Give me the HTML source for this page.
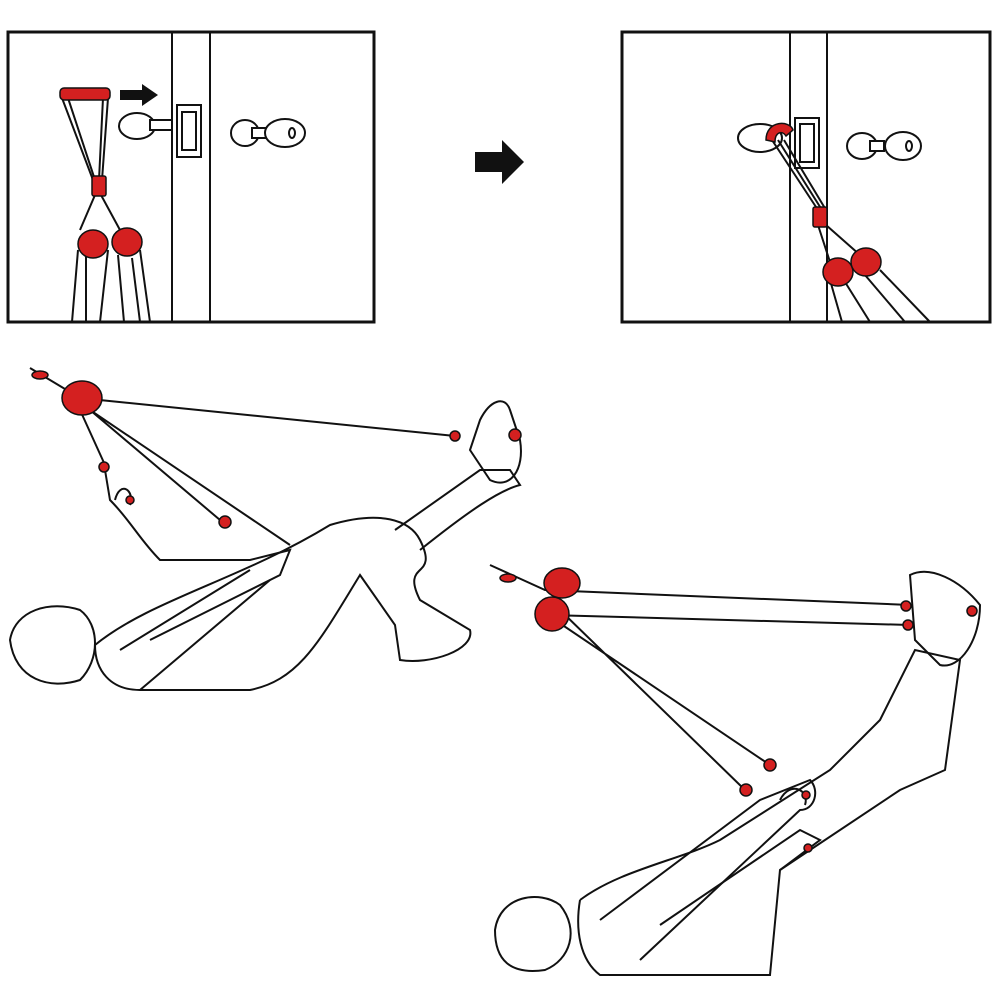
<!DOCTYPE html>
<html><head><meta charset="utf-8"><style>html,body{margin:0;padding:0;background:#fff}svg{display:block}</style></head>
<body>
<svg width="1000" height="1000" viewBox="0 0 1000 1000" xmlns="http://www.w3.org/2000/svg">
<g fill="none" stroke="#111" stroke-width="2">
<!-- left panel -->
<rect x="8" y="32" width="366" height="290" stroke-width="3"/>
<line x1="172" y1="32" x2="172" y2="322"/><line x1="210" y1="32" x2="210" y2="322"/>
<rect x="177" y="105" width="24" height="52"/><rect x="182" y="112" width="14" height="38"/>
<ellipse cx="137" cy="126" rx="18" ry="13" fill="#fff"/><rect x="150" y="120" width="22" height="10" fill="#fff"/>
<ellipse cx="245" cy="133" rx="14" ry="13" fill="#fff"/><rect x="252" y="128" width="16" height="10" fill="#fff"/>
<ellipse cx="285" cy="133" rx="20" ry="14" fill="#fff"/><ellipse cx="292" cy="133" rx="3" ry="5"/>
<path d="M62 98 L93 180 M108 98 L102 180 M68 98 L95 180 M103 98 L99 180"/>
<path d="M95 195 L80 230 M101 195 L120 230 M78 250 L72 322 M108 250 L100 322 M86 255 L86 322 M118 255 L124 322 M140 250 L150 322 M132 258 L140 322"/>
<!-- right panel -->
<rect x="622" y="32" width="368" height="290" stroke-width="3"/>
<line x1="790" y1="32" x2="790" y2="322"/><line x1="827" y1="32" x2="827" y2="322"/>
<rect x="795" y="118" width="24" height="50"/><rect x="800" y="124" width="14" height="38"/>
<ellipse cx="760" cy="138" rx="22" ry="14" fill="#fff"/>
<ellipse cx="862" cy="146" rx="15" ry="13" fill="#fff"/><rect x="870" y="141" width="14" height="10" fill="#fff"/>
<ellipse cx="903" cy="146" rx="18" ry="14" fill="#fff"/><ellipse cx="909" cy="146" rx="3" ry="5"/>
<path d="M772 140 L818 210 M778 140 L822 210 M784 140 L826 210"/>
<path d="M818 225 L830 262 M826 225 L860 255 M830 280 L842 322 M845 282 L870 322 M865 275 L905 322 M880 270 L930 322"/>
<!-- bottom left figure cords -->
<path d="M30 368 L80 398 L455 436 M90 410 L220 520 M90 410 L290 545 M80 410 L105 465"/>
<!-- bottom left figure body -->
<path d="M10 640 C15 610 50 600 80 610 C100 625 100 660 80 680 C50 690 15 680 10 640 Z"/>
<path d="M95 645 C150 600 240 580 330 525 C380 510 410 520 420 540 C440 580 400 560 420 600 L470 630 C475 650 430 665 400 660 L395 625 L360 575 C320 640 300 680 250 690 L140 690 C110 690 95 670 95 645"/>
<path d="M395 530 L480 470 L510 470 L520 485 C500 490 470 510 420 550"/>
<path d="M480 420 C490 400 505 395 510 410 L520 440 C525 470 510 490 490 480 L470 450 Z"/>
<path d="M105 470 L110 500 C130 520 140 540 160 560 L250 560 L290 550 L280 575 L230 600 L150 640"/>
<path d="M115 500 C120 480 135 490 130 505"/>
<path d="M120 650 L250 570 M140 690 L270 580"/>
<!-- bottom right cords -->
<path d="M490 565 L545 590 L910 605 M548 615 L910 625 M555 620 L770 765 M560 610 L745 790"/>
<!-- bottom right figure -->
<path d="M495 930 C500 895 540 890 560 905 C580 930 570 960 545 970 C510 975 495 960 495 930 Z"/>
<path d="M580 900 C620 870 680 860 720 840 L830 770 L880 720 L915 650 L960 660 L945 770 L900 790 L780 870 L770 975 L600 975 C580 960 575 930 580 900"/>
<path d="M910 575 C930 565 960 580 980 605 C980 640 960 670 940 665 L915 640 Z"/>
<path d="M600 920 L760 800 L810 780 C820 790 815 810 800 810 L640 960"/>
<path d="M660 925 L800 830 L820 840 L780 870"/>
<path d="M780 800 C790 780 810 790 805 805"/>
</g>
<!-- red parts -->
<g fill="#d42020" stroke="#111" stroke-width="1.5">
<rect x="60" y="88" width="50" height="12" rx="4"/>
<rect x="92" y="176" width="14" height="20" rx="2"/>
<ellipse cx="93" cy="244" rx="15" ry="14"/><ellipse cx="127" cy="242" rx="15" ry="14"/>
<path d="M766 140 C766 120 790 120 793 130 L786 136 C782 130 775 132 775 142 Z"/>
<rect x="813" y="207" width="14" height="20" rx="2"/>
<ellipse cx="838" cy="272" rx="15" ry="14"/><ellipse cx="866" cy="262" rx="15" ry="14"/>
<ellipse cx="82" cy="398" rx="20" ry="17"/>
<ellipse cx="40" cy="375" rx="8" ry="4"/>
<circle cx="455" cy="436" r="5"/><circle cx="515" cy="435" r="6"/>
<circle cx="104" cy="467" r="5"/><circle cx="225" cy="522" r="6"/><circle cx="130" cy="500" r="4"/>
<ellipse cx="562" cy="583" rx="18" ry="15"/><ellipse cx="552" cy="614" rx="17" ry="17"/>
<ellipse cx="508" cy="578" rx="8" ry="4"/>
<circle cx="906" cy="606" r="5"/><circle cx="908" cy="625" r="5"/><circle cx="972" cy="611" r="5"/>
<circle cx="770" cy="765" r="6"/><circle cx="746" cy="790" r="6"/><circle cx="808" cy="848" r="4"/><circle cx="806" cy="795" r="4"/>
</g>
<!-- arrows -->
<path d="M120 90 L142 90 L142 84 L158 95 L142 106 L142 100 L120 100 Z" fill="#111"/>
<path d="M475 152 L502 152 L502 140 L524 162 L502 184 L502 172 L475 172 Z" fill="#111"/>
</svg>
</body></html>
